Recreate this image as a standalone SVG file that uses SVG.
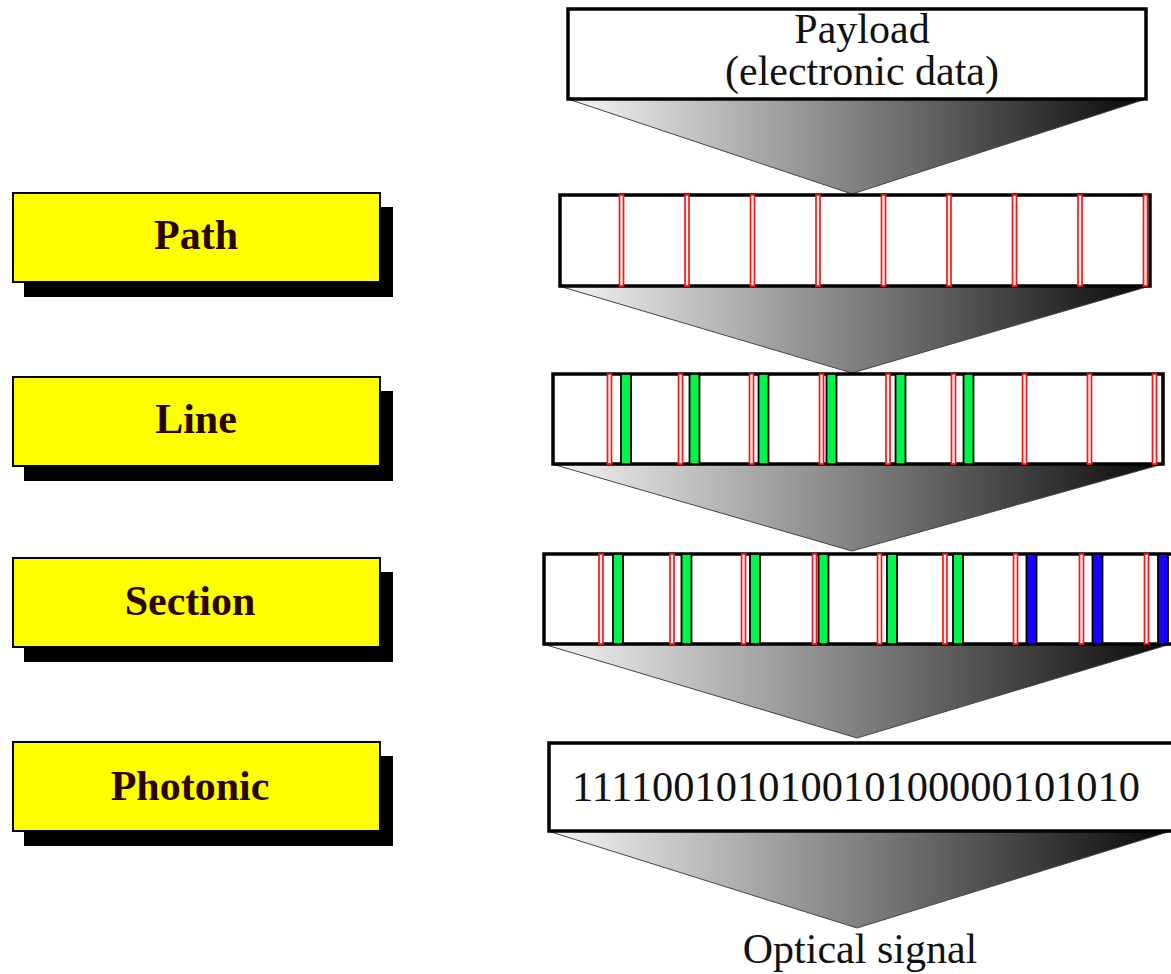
<svg xmlns="http://www.w3.org/2000/svg" width="1171" height="974" viewBox="0 0 1171 974">
  <style>
    .label-box { fill: #ffff00; stroke: #000; stroke-width: 2; }
    .label-shadow { fill: #000; }
    .label-text { font-family: "Liberation Serif", "Times New Roman", serif; font-weight: bold; font-size: 42px; fill: #2b0500; text-anchor: middle; }
    .frame { fill: #fff; stroke: #000; stroke-width: 3.5; }
    .serif { font-family: "Liberation Serif", "Times New Roman", serif; font-size: 42px; fill: #111; }
    .red { fill: #fff2f2; stroke: #ff1414; stroke-width: 1.7; }
    .green { fill: #00f54a; stroke: #000; stroke-width: 1.8; }
    .blue { fill: #1a00ff; stroke: #000; stroke-width: 1.8; }
    .funnel { fill: url(#shade); stroke: #444; stroke-width: 1; }
  </style>
  <defs>
    <linearGradient id="shade" x1="0" y1="0" x2="1" y2="0">
      <stop offset="0" stop-color="#f6f6f6"/>
      <stop offset="0.5" stop-color="#808080"/>
      <stop offset="1" stop-color="#080808"/>
    </linearGradient>
  </defs>

  <rect width="1171" height="974" fill="#fff"/>

  <!-- layer names on the left -->
  <g id="label-path">
    <rect class="label-shadow" x="24" y="207" width="369" height="90"/>
    <rect class="label-box" x="13" y="193" width="367" height="89"/>
    <text class="label-text" x="196" y="249">Path</text>
  </g>
  <g id="label-line">
    <rect class="label-shadow" x="24" y="391" width="369" height="90"/>
    <rect class="label-box" x="13" y="377" width="367" height="89"/>
    <text class="label-text" x="196" y="433">Line</text>
  </g>
  <g id="label-section">
    <rect class="label-shadow" x="24" y="572" width="369" height="90"/>
    <rect class="label-box" x="13" y="558" width="367" height="89"/>
    <text class="label-text" x="190" y="615">Section</text>
  </g>
  <g id="label-photonic">
    <rect class="label-shadow" x="24" y="756" width="369" height="90"/>
    <rect class="label-box" x="13" y="742" width="367" height="89"/>
    <text class="label-text" x="190" y="800">Photonic</text>
  </g>

  <!-- funnels between stages -->
  <g id="connectors">
    <polygon class="funnel" points="568,99 1146,99 852,194"/>
    <polygon class="funnel" points="559,286 1150,286 852,373"/>
    <polygon class="funnel" points="552,464 1163,464 852,551"/>
    <polygon class="funnel" points="543,644 1171,644 857,738"/>
    <polygon class="funnel" points="548,831 1171,831 857,928"/>
  </g>

  <g id="payload">
    <rect class="frame" x="568" y="9" width="578" height="90"/>
    <text class="serif" x="862" y="43" text-anchor="middle">Payload</text>
    <text class="serif" x="862" y="85" text-anchor="middle">(electronic data)</text>
  </g>

  <g id="path-frame">
    <rect class="frame" x="560" y="195" width="590" height="91"/>
    <rect class="red" x="619.5" y="195" width="4" height="91"/>
    <rect class="red" x="685" y="195" width="4" height="91"/>
    <rect class="red" x="750.5" y="195" width="4" height="91"/>
    <rect class="red" x="816" y="195" width="4" height="91"/>
    <rect class="red" x="881.5" y="195" width="4" height="91"/>
    <rect class="red" x="947" y="195" width="4" height="91"/>
    <rect class="red" x="1012.5" y="195" width="4" height="91"/>
    <rect class="red" x="1078" y="195" width="4" height="91"/>
    <rect class="red" x="1143.5" y="195" width="4" height="91"/>
  </g>

  <g id="line-frame">
    <rect class="frame" x="553" y="374" width="610" height="90"/>
    <rect class="red" x="607.5" y="374" width="4" height="90"/>
    <rect class="green" x="621" y="374" width="10" height="90"/>
    <rect class="red" x="678.5" y="374" width="4" height="90"/>
    <rect class="green" x="689.5" y="374" width="10" height="90"/>
    <rect class="red" x="749.5" y="374" width="4" height="90"/>
    <rect class="green" x="758.5" y="374" width="10" height="90"/>
    <rect class="red" x="819.5" y="374" width="4" height="90"/>
    <rect class="green" x="826.5" y="374" width="10" height="90"/>
    <rect class="red" x="886" y="374" width="4" height="90"/>
    <rect class="green" x="895.5" y="374" width="10" height="90"/>
    <rect class="red" x="951.5" y="374" width="4" height="90"/>
    <rect class="green" x="963.5" y="374" width="10" height="90"/>
    <rect class="red" x="1022.5" y="374" width="4" height="90"/>
    <rect class="red" x="1087.5" y="374" width="4" height="90"/>
    <rect class="red" x="1152.5" y="374" width="4" height="90"/>
  </g>

  <g id="section-frame">
    <rect class="frame" x="544" y="554" width="630" height="90"/>
    <rect class="red" x="599" y="554" width="4" height="90"/>
    <rect class="green" x="613" y="554" width="10" height="90"/>
    <rect class="red" x="670" y="554" width="4" height="90"/>
    <rect class="green" x="681.5" y="554" width="10" height="90"/>
    <rect class="red" x="741.5" y="554" width="4" height="90"/>
    <rect class="green" x="750" y="554" width="10" height="90"/>
    <rect class="red" x="812.5" y="554" width="4" height="90"/>
    <rect class="green" x="818.5" y="554" width="10" height="90"/>
    <rect class="red" x="877.5" y="554" width="4" height="90"/>
    <rect class="green" x="887" y="554" width="10" height="90"/>
    <rect class="red" x="943" y="554" width="4" height="90"/>
    <rect class="green" x="953" y="554" width="10" height="90"/>
    <rect class="red" x="1013.5" y="554" width="4" height="90"/>
    <rect class="blue" x="1026.5" y="554" width="10" height="90"/>
    <rect class="red" x="1079.5" y="554" width="4" height="90"/>
    <rect class="blue" x="1092.5" y="554" width="10" height="90"/>
    <rect class="red" x="1144.5" y="554" width="4" height="90"/>
    <rect class="blue" x="1158" y="554" width="10" height="90"/>
  </g>

  <g id="photonic-frame">
    <rect class="frame" x="549" y="743" width="626" height="88"/>
    <text class="serif" x="572" y="801" textLength="568" lengthAdjust="spacingAndGlyphs">111100101010010100000101010</text>
  </g>

  <g id="optical-signal">
    <text class="serif" x="860" y="963" text-anchor="middle">Optical signal</text>
  </g>
</svg>
